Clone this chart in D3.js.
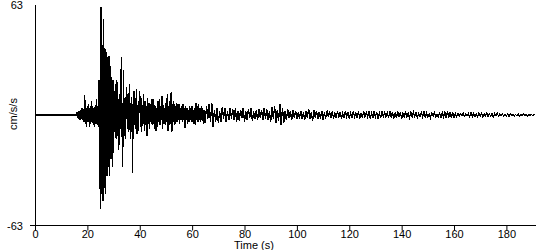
<!DOCTYPE html>
<html>
<head>
<meta charset="utf-8">
<script src="https://cdn.jsdelivr.net/npm/d3@7"></script>
<style>
  html, body { margin: 0; padding: 0; background: #fff; }
  svg text { font-family: Arial, "Liberation Sans", sans-serif; font-size: 11px; fill: #000; }
</style>
</head>
<body>
<div id="chart"></div>
<script>
// strong motion part, one value every 0.25 s from t = 15 s (cm/s/s)
var strongStart = 15,
    strongStep = 0.25;
var accelStrong = [
  0, 0, 0, 0, 1, -1.5, 2, -2, 2.5, -3, 3, -2.5, 4, -3, 3.5, -4, 11.5, -5, 4, -7,
  5, -4, 6, -7, 4, -5, 8, -4, 5, -6, 4, -7, 6, -5, 9, -6, 5, -7, 20, -30,
  -54, 62, -45, 40, -49, 55, -42, 38, -45, 36, -35, 33, -30, 34, -35, 28, -25, 22, -30, 20,
  -22, 14, -10, 18, -14, 20, -12, 9, -20, 12, -8, 16, 33, -10, -30, 26, -12, 10, -14, 8,
  16, -8, 12, -10, 18, -6, -14, 10, 6, -33, 8, 14, -6, 10, -8, 15, -11, 6, -9, 7,
  14, -7, 10, -10, 6, -5, 12, -9, 8, -6, 5, -12, 10, -5, 7, -8, 6, -4, 9, -6,
  9, -5, 6, -8, 5, -9, 4, -7, 8, -4, 9, -6, 5, -3, 11, -8, 6, -5, 4, -6,
  7, -4, 12, -9, 5, -6, 8, -5, 13, -10, 6, -4, 8, -6, 5, -5, 7, -4, 6, -3,
  6, -5, 4, -3, 5, -4, 6, -3, 4, -7.5, 5, -3, 4, -5, 3, -4, 5, -3, 4, -4,
  5, -4, 3, -5, 4, -6, 7, -3, 5, -4, 6, -3, 4, -4, 5, -3, 4, -5, 3, -4
];

// coda, one value every 0.5 s from t = 65 s (cm/s/s)
var codaStart = 65,
    codaStep = 0.5;
var accelCoda = [
  -4, 5, -2, 6, -4, 7, -7, 3, -4, 4,
  -4.5, 2, -4, 4.5, -2, 4, -4, 2, -3, 4,
  -2, 3.5, -3, 4, -4, 2, -3.5, 3, -1.5, 4,
  -4, 2, -3, 3.5, -1.5, 4, -3.5, 2, -2.5, 3,
  -3, 3.5, -1.5, 3, -3, 4, -2, 3.5, -3, 2,
  -4, 4.5, -2, 5, -4.5, 3, -3.5, 6, -5.5, 4,
  -4.5, 2, -3, 3.5, -1.5, 2.5, -3, 3, -1.5, 2.5,
  -2.5, 1.5, -2, 2.5, -2.5, 1.5, -3, 2.5, -1.5, 3.5,
  -2, 1.5, -3.5, 3, -1.5, 2.5, -2.5, 1.5, -2, 2.5,
  -3, 1.5, -2, 2.5, -1, 2, -1.5, 2, -2, 1,
  -1.5, 2, -1, 1.5, -2, 1, -1.5, 2, -1, 1.5,
  -2, 1, -1.5, 2, -1, 1, -1.5, 2, -2, 1,
  -1.5, 2, -1, 1.5, -1, 2, -2, 1, -1.5, 2,
  -1, 1.5, -2, 1, -1.5, 2, -1, 1.5, -1, 1.5,
  -1.5, 2, -1, 1.5, -2, 1, -1.5, 2, -1, 1.5,
  -2, 1, -1.5, 2, -1, 1, -1.5, 1.5, -1, 1.5,
  -1, 1.5, -1.5, 1, -1, 1.5, -1, 2, -1.5, 1,
  -1, 0.5, -1.5, 1, -0.5, 1.5, -1, 0.5, -1, 1,
  -1.5, 1.5, -1, 1.5, -1.5, 2, -1.5, 1.5, -1.5, 1.5,
  -1.5, 1, -1, 1, -0.5, 0.5, -0.5, 1, -0.7, 0.5,
  -0.5, 0.7, -1, 1.5, -1, 1, -0.7, 0.5, -1, 1,
  -0.7, 1, -1, 0.7, -0.5, 1, -0.7, 0.5, -0.5, 0.7,
  -1, 0.7, -0.5, 1, -0.7, 0.5, -0.5, 0.5, -0.7, 0.5,
  -0.5, 0.5, -0.7, 0.5, -0.3, 0.5, -0.5, 0.3, -0.5, 0.5,
  -0.5, 0.3, -0.5, 0.5, -0.3, 0.3, -0.5, 0.3, -0.3, 0.3,
  -0.3, 0.3, 0
];
var xTicks = [0, 20, 40, 60, 80, 100, 120, 140, 160, 180];
var yLabels = ['63', '-63'];
var yMax = 63,
    tMax = 191.3;

var width = 550,
    height = 250;

var svg = d3.select('#chart').append('svg')
    .attr('width', width)
    .attr('height', height);

var x = d3.scaleLinear().domain([0, tMax]).range([35, 536]),
    y = d3.scaleLinear().domain([-yMax, yMax]).range([225, 5]);

// trace: flat until the record starts
var pts = [[0, 0]];
accelStrong.forEach(function(v, i) { pts.push([strongStart + i * strongStep, v]); });
accelCoda.forEach(function(v, i) { pts.push([codaStart + i * codaStep, v]); });

var line = d3.line()
    .x(function(d) { return x(d[0]); })
    .y(function(d) { return y(d[1]); });

svg.append('path')
    .datum(pts)
    .attr('d', line)
    .attr('fill', 'none')
    .attr('stroke', '#000')
    .attr('stroke-width', 1.3)
    .attr('shape-rendering', 'crispEdges');

// x axis
var xAxis = svg.append('g')
    .attr('transform', 'translate(0,225.5)')
    .call(d3.axisBottom(x).tickValues(xTicks).tickSize(5).tickPadding(0).tickFormat(d3.format('d')));
xAxis.select('.domain').remove();
xAxis.selectAll('.tick line').attr('stroke', '#000');
xAxis.selectAll('.tick text').attr('font-size', 11).attr('font-family', 'Arial, "Liberation Sans", sans-serif');
svg.append('line')
    .attr('x1', 30).attr('x2', 536)
    .attr('y1', 225.5).attr('y2', 225.5)
    .attr('stroke', '#000');

// y axis line
svg.append('line')
    .attr('x1', 35.5).attr('x2', 35.5)
    .attr('y1', 5).attr('y2', 225)
    .attr('stroke', '#000');

svg.append('text').attr('x', 23).attr('y', 9).attr('text-anchor', 'end').text(yLabels[0]);
svg.append('text').attr('x', 23).attr('y', 230).attr('text-anchor', 'end').text(yLabels[1]);

svg.append('text')
    .attr('transform', 'translate(17,114) rotate(-90)')
    .attr('text-anchor', 'middle')
    .text('cm/s/s');

svg.append('text')
    .attr('x', 254).attr('y', 249)
    .attr('font-size', 10)
    .attr('text-anchor', 'middle')
    .text('Time (s)');
</script>
</body>
</html>
